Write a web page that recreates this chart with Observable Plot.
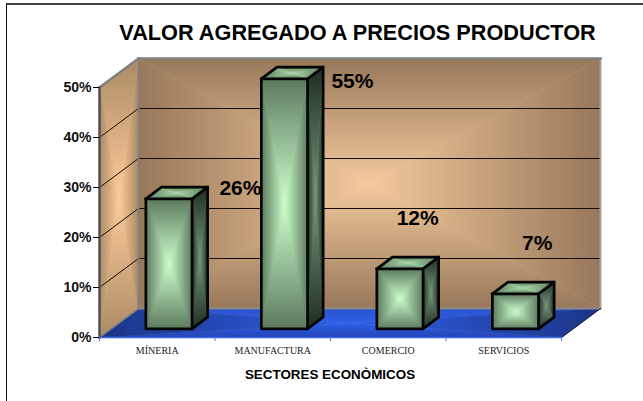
<!DOCTYPE html>
<html>
<head>
<meta charset="utf-8">
<script src="https://cdn.jsdelivr.net/npm/d3@7"></script>
<script src="https://cdn.jsdelivr.net/npm/@observablehq/plot@0.6"></script>
<style>
  html, body { margin: 0; padding: 0; background: #fff; }
  #chart { position: relative; width: 643px; height: 401px; overflow: hidden; }
  #chart svg { position: absolute; left: 0; top: 0; background: transparent; }
  #edge { position: absolute; left: 6px; top: 3px; right: -4px; bottom: -4px;
          border-left: 1.5px solid #111; border-top: 2px solid #404040; }
</style>
</head>
<body>
<div id="chart"><div id="edge"></div></div>
<script>
// ---- data ----
const categories = ["MÍNERIA", "MANUFACTURA", "COMERCIO", "SERVICIOS"];
const values = [26, 55, 12, 7];
const valueLabels = ["26%", "55%", "12%", "7%"];
const yTicks = [0, 10, 20, 30, 40, 50];
const gridValues = [10, 20, 30, 40];
const xTicks = [0, 1, 2, 3, 4];
const titleText = "VALOR AGREGADO A PRECIOS PRODUCTOR";
const xTitle = "SECTORES ECONÒMICOS";
const labelCat = [1.22, 2.19, 2.755, 3.79];
const labelPct = [29.8, 51.2, 23.8, 18.8];

// ---- oblique projection: unit depth in category / percent units ----
const DX = 39 / 115.5, DY = 5.8;
const P = (c, v, d = 0) => ({x: c + d * DX, y: v + d * DY});

// ---- gradients ----
const SVGNS = "http://www.w3.org/2000/svg";
const dirs = {t: [0, 0, 0, 1], b: [0, 1, 0, 0], l: [0, 0, 1, 0], r: [1, 0, 0, 0]};
const palettes = {
  back:  ["#98785a", "#f4ca9e"],
  side:  ["#ab8a66", "#ffcc99"],
  floor: ["#1b3585", "#2f60ea"],
  front: ["#5c7a5e", "#ccffcc"],
  top:   ["#5c7a5e", "#aadcaa"],
  right: ["#1e2e22", "#76967a"]
};
// the floor's front and back edges stay brighter than its left and right ends
const edgeOverride = {"floor-t": "#2a52cc", "floor-b": "#2444b4"};
function gradientDefs() {
  const defs = document.createElementNS(SVGNS, "defs");
  let html = "";
  for (const [name, [edge, center]] of Object.entries(palettes))
    for (const [k, [x1, y1, x2, y2]] of Object.entries(dirs)) {
      const id = `${name}-${k}`;
      html += `<linearGradient id="${id}" x1="${x1}" y1="${y1}" x2="${x2}" y2="${y2}">` +
              `<stop offset="0" stop-color="${edgeOverride[id] || edge}"/><stop offset="1" stop-color="${center}"/></linearGradient>`;
    }
  defs.innerHTML = html;
  return defs;
}

// ---- polygon helpers (all points in data space) ----
const poly = (pts, fill, extra = {}) =>
  Plot.line(pts, {x: "x", y: "y", fill, stroke: "none", ...extra});

// a, b, c, d = top-left, top-right, bottom-right, bottom-left
function face(a, b, c, d, name) {
  const m = {x: (a.x + b.x + c.x + d.x) / 4, y: (a.y + b.y + c.y + d.y) / 4};
  const tri = (p, q, k) => {
    const url = `url(#${name}-${k})`;
    return poly([p, q, m, p], url, {stroke: url, strokeWidth: 0.6});
  };
  return [tri(a, b, "t"), tri(c, d, "b"), tri(d, a, "l"), tri(b, c, "r")];
}
const outline = (pts, w = 2.7) =>
  Plot.line(pts, {x: "x", y: "y", stroke: "#050505", strokeWidth: w,
                  strokeLinejoin: "miter", strokeLinecap: "square"});
const seg = (p, q, stroke, strokeWidth) =>
  Plot.line([p, q], {x: "x", y: "y", stroke, strokeWidth, strokeLinecap: "square"});

// ---- bars ----
function bar(i) {
  const v = Math.min(values[i], 50);
  const L = i + 0.3, R = i + 0.7, F = 0.3, B = 0.7;
  const ftl = P(L, v, F), ftr = P(R, v, F), fbr = P(R, 0, F), fbl = P(L, 0, F);
  const btl = P(L, v, B), btr = P(R, v, B), bbr = P(R, 0, B);
  return [
    ...face(btl, btr, ftr, ftl, "top"),
    ...face(ftr, btr, bbr, fbr, "right"),
    ...face(ftl, ftr, fbr, fbl, "front"),
    outline([ftl, ftr, fbr, fbl, ftl]),
    outline([ftl, btl, btr, ftr]),
    outline([btr, bbr, fbr])
  ];
}

const chart = Plot.plot({
  width: 643,
  height: 401,
  marginLeft: 99,
  marginRight: 82,
  marginTop: 87,
  marginBottom: 64,
  style: {background: "transparent", overflow: "visible"},
  x: {type: "linear", domain: [0, 4], axis: null},
  y: {type: "linear", domain: [0, 50], axis: null},
  marks: [
    gradientDefs,
    // walls and floor
    ...face(P(0, 50, 0), P(0, 50, 1), P(0, 0, 1), P(0, 0, 0), "side"),
    ...face(P(0, 50, 1), P(4, 50, 1), P(4, 0, 1), P(0, 0, 1), "back"),
    ...face(P(0, 0, 1), P(4, 0, 1), P(4, 0, 0), P(0, 0, 0), "floor"),
    // gridlines
    Plot.line(gridValues.flatMap(v => [
      {v, ...P(0, v, 0)}, {v, ...P(0, v, 1)}, {v, ...P(4, v, 1)}
    ]), {x: "x", y: "y", z: "v", stroke: "#140c06", strokeWidth: 1}),
    // wall edges
    seg(P(0, 0, 1), P(4, 0, 1), "#8a8a8a", 2),
    seg(P(4, 0, 1), P(4, 50, 1), "#a2a2a2", 2),
    seg(P(0, 0, 1), P(0, 50, 1), "#808080", 2),
    seg(P(0, 0, 0), P(0, 0, 1), "#808080", 1.5),
    seg(P(4, 0, 0), P(4, 0, 1), "#1a1a2a", 1),
    seg(P(0, 50, 1), P(4, 50, 1), "#808080", 2.5),
    seg(P(0, 50, 0), P(0, 50, 1), "#808080", 2.5),
    seg(P(0, 0, 0), P(0, 50, 0), "#505050", 2.5),
    Plot.ruleY([0], {x1: 0, x2: 4, stroke: "#3a66ea", strokeWidth: 1.5}),
    // bars
    ...categories.flatMap((_, i) => bar(i)),
    // axes
    Plot.axisY({ticks: yTicks, tickFormat: d => d + "%", tickSize: 6, tickPadding: 2,
                fontSize: 14, fontWeight: "bold", fontFamily: "Liberation Sans",
                stroke: "#000", fill: "#111", label: null}),
    Plot.axisX({ticks: xTicks, tickFormat: () => "", tickSize: 4, stroke: "#4a78f0", label: null}),
    Plot.text(categories, {x: (_, i) => i + 0.5, y: () => 0, text: d => d, dy: 13,
                           fontFamily: "Liberation Serif", fontSize: 10, fill: "#222"}),
    // titles
    Plot.text([xTitle], {frameAnchor: "bottom", dx: -0.5, dy: 41, text: d => d,
                         fontFamily: "Liberation Sans", fontWeight: "bold", fontSize: 13.4, fill: "#000"}),
    Plot.text([titleText], {frameAnchor: "top", dx: 27, dy: -63, text: d => d,
                            fontFamily: "Liberation Sans", fontWeight: "bold", fontSize: 21.7, fill: "#000"}),
    // value labels
    Plot.text(valueLabels, {x: (_, i) => labelCat[i], y: (_, i) => labelPct[i], text: d => d,
                            fontFamily: "Liberation Sans", fontWeight: "bold", fontSize: 21, fill: "#000"})
  ]
});
document.getElementById("chart").appendChild(chart);
</script>
</body>
</html>
